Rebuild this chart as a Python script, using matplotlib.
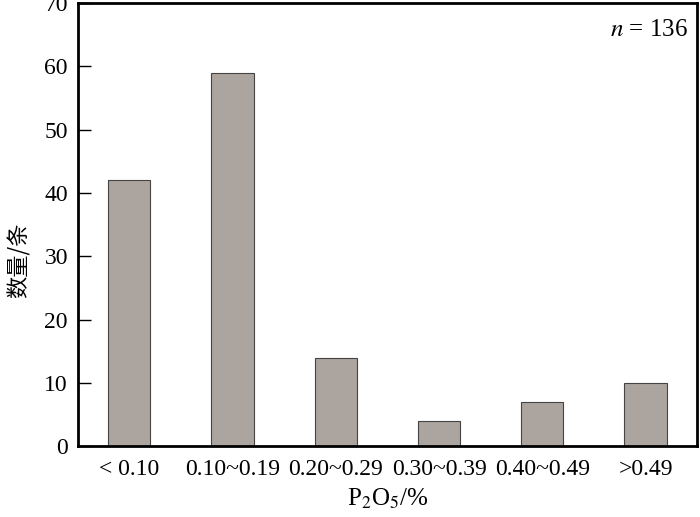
import matplotlib
matplotlib.use('Agg')
import matplotlib.pyplot as plt

plt.rcParams['font.family'] = ['Liberation Serif', 'Noto Sans CJK SC', 'DejaVu Sans']
plt.rcParams['mathtext.fontset'] = 'stix'

# 数据
categories = ['< 0.10', '0.10~0.19', '0.20~0.29', '0.30~0.39', '0.40~0.49', '>0.49']
counts = [42, 59, 14, 4, 7, 10]

fig = plt.figure(figsize=(7, 5.17), dpi=100)
ax = fig.add_axes([0.111, 0.137, 0.885, 0.857])

x = range(len(categories))
ax.bar(x, counts, width=0.41, color='#aca59f', edgecolor='#444444', linewidth=0.8)

ax.set_xlim(-0.5, 5.5)
ax.set_ylim(0, 70)
ax.set_yticks(range(0, 71, 10))
ax.tick_params(axis='y', direction='in', length=9, width=1, labelsize=17, pad=7)
ax.set_xticks(list(x))
ax.set_xticklabels(categories)
ax.tick_params(axis='x', length=0, labelsize=17, pad=9)
for spine in ax.spines.values():
    spine.set_linewidth(2)

ax.set_xlabel(r'P$_2$O$_5$/%', fontsize=18, labelpad=5)
ax.set_ylabel('数量/条', fontsize=16, family=['Noto Sans CJK SC'])
ax.yaxis.set_label_coords(-0.076, 0.42)
ax.text(0.985, 0.965, r'$n$ = 136', transform=ax.transAxes, ha='right', va='top', fontsize=18)

fig.savefig('out.png', dpi=100)
